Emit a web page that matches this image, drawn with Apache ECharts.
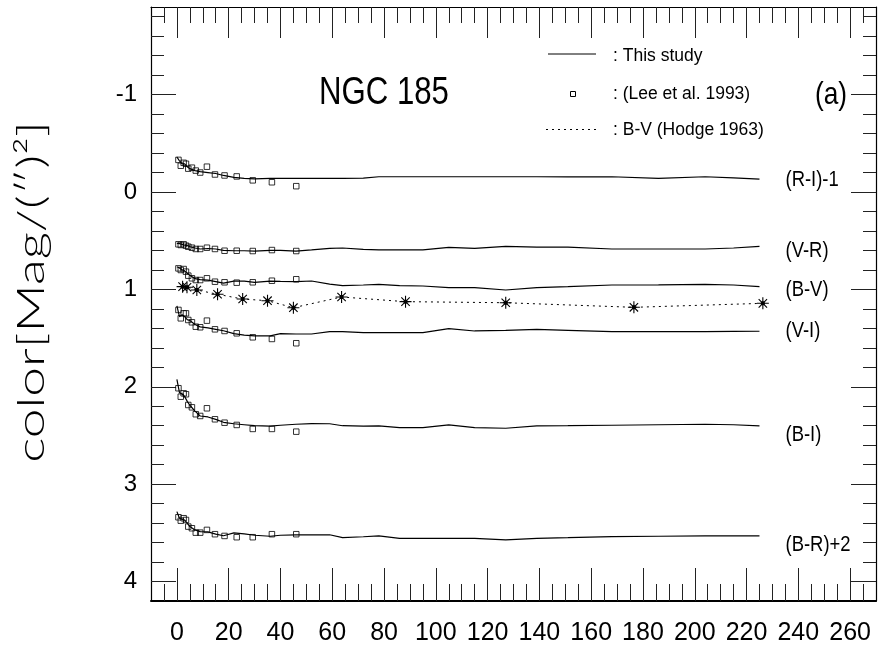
<!DOCTYPE html>
<html><head><meta charset="utf-8">
<script src="https://cdn.jsdelivr.net/npm/echarts@6/dist/echarts.min.js"></script>
<style>html,body{margin:0;padding:0;background:#fff}#c{width:882px;height:655px}</style>
</head><body><div id="c"></div>
<script>
// ---- tick labels ----
const xTickLabels = [0, 20, 40, 60, 80, 100, 120, 140, 160, 180, 200, 220, 240, 260];
const yTickLabels = [-1, 0, 1, 2, 3, 4];

// ---- "This study" profiles ----
const thisStudyR = [0, 1, 2, 3, 4, 5, 7, 9, 12, 15, 18, 22, 26, 30, 36, 40, 46, 52, 59, 64, 72, 78, 86, 95, 105, 115, 127, 139, 151, 168, 186, 204, 215, 225];
const riMinus1 = [-0.36, -0.32, -0.29, -0.29, -0.26, -0.24, -0.22, -0.21, -0.20, -0.19, -0.17, -0.15, -0.14, -0.135, -0.14, -0.14, -0.14, -0.14, -0.14, -0.14, -0.142, -0.157, -0.157, -0.157, -0.157, -0.157, -0.157, -0.157, -0.155, -0.157, -0.14, -0.157, -0.145, -0.133];
const vMinusR = [0.527, 0.53, 0.537, 0.545, 0.55, 0.56, 0.575, 0.585, 0.58, 0.585, 0.60, 0.603, 0.603, 0.606, 0.60, 0.60, 0.606, 0.595, 0.578, 0.575, 0.589, 0.595, 0.595, 0.595, 0.568, 0.578, 0.558, 0.565, 0.565, 0.585, 0.585, 0.585, 0.575, 0.558];
const bMinusV = [0.767, 0.78, 0.80, 0.81, 0.835, 0.855, 0.89, 0.90, 0.905, 0.92, 0.935, 0.915, 0.915, 0.927, 0.915, 0.918, 0.921, 0.914, 0.945, 0.962, 0.955, 0.948, 0.962, 0.965, 0.982, 0.982, 1.006, 0.982, 0.972, 0.955, 0.953, 0.948, 0.955, 0.972];
const vMinusI = [1.17, 1.28, 1.26, 1.28, 1.31, 1.32, 1.36, 1.385, 1.395, 1.41, 1.425, 1.455, 1.47, 1.478, 1.478, 1.455, 1.458, 1.458, 1.434, 1.434, 1.444, 1.444, 1.444, 1.444, 1.403, 1.427, 1.42, 1.41, 1.42, 1.434, 1.434, 1.434, 1.432, 1.43];
const bMinusI = [1.923, 2.06, 2.075, 2.10, 2.15, 2.19, 2.25, 2.30, 2.31, 2.335, 2.365, 2.38, 2.39, 2.40, 2.405, 2.395, 2.385, 2.378, 2.38, 2.40, 2.405, 2.402, 2.419, 2.419, 2.392, 2.419, 2.426, 2.402, 2.40, 2.395, 2.39, 2.385, 2.39, 2.402];
const bMinusRPlus2 = [3.282, 3.35, 3.36, 3.37, 3.40, 3.436, 3.47, 3.488, 3.49, 3.514, 3.53, 3.50, 3.51, 3.525, 3.535, 3.525, 3.52, 3.52, 3.52, 3.549, 3.54, 3.532, 3.556, 3.556, 3.556, 3.556, 3.573, 3.556, 3.55, 3.539, 3.535, 3.532, 3.532, 3.532];
const curveNames = ['(R-I)-1', '(V-R)', '(B-V)', '(V-I)', '(B-I)', '(B-R)+2'];

// ---- Lee et al. 1993 ----
const leeR = [0.6, 1.5, 2.6, 3.5, 4.4, 5.8, 7.3, 9.0, 11.6, 14.7, 18.4, 23.1, 29.3, 36.7, 46.1];
const leeRI = [-0.33, -0.27, -0.30, -0.29, -0.24, -0.25, -0.22, -0.20, -0.26, -0.18, -0.17, -0.16, -0.12, -0.10, -0.06];
const leeVR = [0.537, 0.544, 0.537, 0.551, 0.562, 0.572, 0.585, 0.585, 0.572, 0.585, 0.603, 0.603, 0.606, 0.596, 0.606];
const leeBV = [0.784, 0.801, 0.791, 0.818, 0.859, 0.886, 0.904, 0.904, 0.886, 0.921, 0.927, 0.931, 0.927, 0.911, 0.896];
const leeVI = [1.211, 1.297, 1.246, 1.246, 1.314, 1.338, 1.383, 1.389, 1.321, 1.410, 1.427, 1.451, 1.492, 1.509, 1.553];
const leeBI = [2.015, 2.102, 2.067, 2.077, 2.187, 2.211, 2.282, 2.300, 2.221, 2.334, 2.369, 2.392, 2.433, 2.433, 2.461];
const leeBR = [3.34, 3.375, 3.35, 3.368, 3.436, 3.453, 3.498, 3.498, 3.47, 3.514, 3.532, 3.545, 3.545, 3.514, 3.514];

// ---- Hodge 1963 B-V ----
const hodgeR = [2.2, 3.9, 7.7, 15.7, 25.4, 35.0, 45.0, 63.6, 88.3, 127, 176.5, 226.3];
const hodgeBV = [0.972, 0.978, 1.006, 1.05, 1.099, 1.116, 1.188, 1.078, 1.126, 1.137, 1.184, 1.143];

// ---- styling ----
const SANS = '"Liberation Sans",Arial,Helvetica,sans-serif';
const NARROW_SCALE = 0.82;
const labelDy = [1, 4, 3, 0, 9, 9];
const labelGap = 26;
const X_MIN = -10, X_MAX = 270, Y_MIN = -1.9, Y_MAX = 4.2;

const xMinor = [], xMajor = [];
for (let v = -5; v <= 265; v += 5) xMinor.push(v);
for (let v = 0; v <= 260; v += 20) xMajor.push(v);
const yMinor = [], yMajor = [];
for (let k = -9; k <= 20; k++) yMinor.push(Math.round(k * 2) / 10);
for (let v = -1; v <= 4; v++) yMajor.push(v);

const tickStyle = { color: '#222', width: 1 };
function xAx(pos, ticks, len, showLine, labels) {
  return {
    type: 'value', position: pos, min: X_MIN, max: X_MAX,
    axisLine: { show: showLine, onZero: false, lineStyle: { color: '#000', width: pos === 'bottom' ? 2 : 1.2 } },
    axisTick: { show: true, inside: true, length: len, customValues: ticks, lineStyle: tickStyle },
    axisLabel: labels ? { show: true, customValues: labels, fontFamily: SANS, fontSize: 25, color: '#000', margin: 20 } : { show: false },
    splitLine: { show: false }
  };
}
function yAx(pos, ticks, len, showLine, labels) {
  return {
    type: 'value', position: pos, min: Y_MIN, max: Y_MAX, inverse: true,
    axisLine: { show: showLine, onZero: false, lineStyle: { color: '#000', width: 1.2 } },
    axisTick: { show: true, inside: true, length: len, customValues: ticks, lineStyle: tickStyle },
    axisLabel: labels ? { show: true, customValues: labels, fontFamily: SANS, fontSize: 24, color: '#000', margin: 14 } : { show: false },
    splitLine: { show: false }
  };
}

const studyArrays = [riMinus1, vMinusR, bMinusV, vMinusI, bMinusI, bMinusRPlus2];
const leeArrays = [leeRI, leeVR, leeBV, leeVI, leeBI, leeBR];

const series = [];
studyArrays.forEach((arr, i) => {
  series.push({
    name: curveNames[i], type: 'line', xAxisIndex: 0, yAxisIndex: 0,
    data: thisStudyR.map((r, j) => [r, arr[j]]),
    symbol: 'none', smooth: false, silent: true,
    lineStyle: { color: '#000', width: 1.2 },
    z: 3
  });
});
leeArrays.forEach((arr, i) => {
  series.push({
    name: 'Lee ' + curveNames[i], type: 'scatter', xAxisIndex: 0, yAxisIndex: 0,
    data: leeR.map((r, j) => [r, arr[j]]),
    symbol: 'rect', symbolSize: 5.5, silent: true,
    itemStyle: { color: 'rgba(0,0,0,0)', borderColor: '#000', borderWidth: 1 },
    z: 4
  });
});
series.push({
  name: 'Hodge B-V', type: 'line', xAxisIndex: 0, yAxisIndex: 0,
  data: hodgeR.map((r, j) => [r, hodgeBV[j]]),
  symbol: 'path://M5,0L5,10M0,5L10,5M1.5,1.5L8.5,8.5M1.5,8.5L8.5,1.5M3.8,3.8L6.2,3.8L6.2,6.2L3.8,6.2Z',
  symbolSize: 12, showAllSymbol: true, silent: true,
  itemStyle: { color: '#000', borderColor: '#000', borderWidth: 1.1 },
  lineStyle: { color: '#000', width: 1, type: [2, 4] },
  z: 5
});

const chart = echarts.init(document.getElementById('c'), null, { renderer: 'canvas' });
const baseGraphic = [
  { type: 'text', x: 32, y: 292, rotation: Math.PI / 2, scaleX: 1.4,
    style: { text: 'color[Mag/(″)²]', align: 'center', verticalAlign: 'middle',
      font: '300 38px Lato,"Open Sans","DejaVu Sans",sans-serif', fill: '#000' } },
  { type: 'text', x: 384, y: 94, scaleX: NARROW_SCALE,
    style: { text: 'NGC 185', align: 'center', verticalAlign: 'middle', font: '38px ' + SANS, fill: '#000' } },
  { type: 'text', x: 831, y: 95, scaleX: NARROW_SCALE,
    style: { text: '(a)', align: 'center', verticalAlign: 'middle', font: '32px ' + SANS, fill: '#000' } },
  { type: 'line', shape: { x1: 548, y1: 54, x2: 596, y2: 54 }, style: { stroke: '#000', lineWidth: 1 } },
  { type: 'text', x: 613, y: 56,
    style: { text: ': This study', align: 'left', verticalAlign: 'middle', font: '17.5px ' + SANS, fill: '#000' } },
  { type: 'rect', shape: { x: 570.5, y: 91.5, width: 5, height: 5 }, style: { fill: 'none', stroke: '#000', lineWidth: 1 } },
  { type: 'text', x: 613, y: 94,
    style: { text: ': (Lee et al. 1993)', align: 'left', verticalAlign: 'middle', font: '17.5px ' + SANS, fill: '#000' } },
  { type: 'line', shape: { x1: 546, y1: 129.5, x2: 596, y2: 129.5 }, style: { stroke: '#000', lineWidth: 1, lineDash: [2, 4] } },
  { type: 'text', x: 613, y: 130,
    style: { text: ': B-V (Hodge 1963)', align: 'left', verticalAlign: 'middle', font: '17.5px ' + SANS, fill: '#000' } }
];
chart.setOption({
  animation: false,
  backgroundColor: '#fff',
  grid: { left: 151, right: 6, top: 7, bottom: 54, containLabel: false, outerBoundsMode: 'none' },
  xAxis: [
    xAx('bottom', xMinor, 17, true, xTickLabels),
    xAx('bottom', xMajor, 33, false, null),
    xAx('top', xMinor, 16, true, null),
    xAx('top', xMajor, 31, false, null)
  ],
  yAxis: [
    yAx('left', yMinor, 13, true, yTickLabels),
    yAx('left', yMajor, 25, false, null),
    yAx('right', yMinor, 13, true, null),
    yAx('right', yMajor, 25, false, null)
  ],
  series: series,
  graphic: baseGraphic
});

// curve labels placed at the end of each profile via the chart's own scales
const curveLabelGraphic = studyArrays.map((arr, i) => {
  const last = thisStudyR.length - 1;
  const p = chart.convertToPixel({ xAxisIndex: 0, yAxisIndex: 0 }, [thisStudyR[last], arr[last]]);
  return { type: 'text', x: p[0] + labelGap, y: p[1] + labelDy[i], scaleX: NARROW_SCALE,
    style: { text: curveNames[i], align: 'left', verticalAlign: 'middle', font: '22.5px ' + SANS, fill: '#000' } };
});
chart.setOption({ graphic: baseGraphic.concat(curveLabelGraphic) });
</script>
</body></html>
